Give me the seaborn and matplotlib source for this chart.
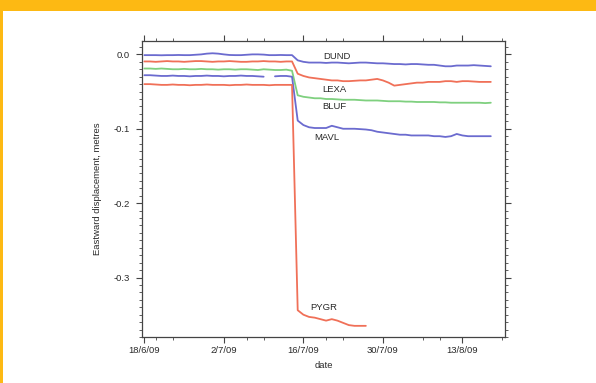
import pandas as pd
import numpy as np
import matplotlib
matplotlib.use('Agg')
import matplotlib.pyplot as plt
import matplotlib.dates as mdates
from matplotlib.ticker import MultipleLocator
from matplotlib.patches import Rectangle
import seaborn as sns

# daily positions, 18/6/09 .. 14/7/09 (before the quake)
pre_dates = pd.date_range('2009-06-18', '2009-07-14', freq='D')
# daily positions after the quake, 15/7/09 .. 18/8/09
post_dates = pd.date_range('2009-07-15', '2009-08-18', freq='D')
pygr_post_dates = pd.date_range('2009-07-15', '2009-07-27', freq='D')

dund_pre = [-0.001, -0.001, -0.001, -0.0012, -0.001, -0.001, -0.0008, -0.001, -0.001, -0.0005,
            0.0, 0.001, 0.0015, 0.001, 0.0, -0.0008, -0.001, -0.001, -0.0005, 0.0,
            0.0, -0.0003, -0.001, -0.001, -0.0008, -0.001, -0.001]
dund_post = [-0.008, -0.010, -0.011, -0.011, -0.011, -0.0115, -0.011, -0.011, -0.0115, -0.012,
             -0.0115, -0.011, -0.011, -0.0115, -0.012, -0.012, -0.0125, -0.013, -0.013, -0.0135,
             -0.013, -0.013, -0.0135, -0.014, -0.014, -0.015, -0.016, -0.016, -0.015, -0.015,
             -0.015, -0.0145, -0.015, -0.0155, -0.016]

lexa_pre = [-0.0095, -0.0095, -0.010, -0.0095, -0.009, -0.0095, -0.0095, -0.010, -0.0095, -0.009,
            -0.009, -0.0095, -0.010, -0.0095, -0.0095, -0.009, -0.0095, -0.010, -0.010, -0.0095,
            -0.0095, -0.009, -0.0095, -0.0095, -0.010, -0.0095, -0.0095]
lexa_post = [-0.026, -0.029, -0.031, -0.032, -0.033, -0.034, -0.035, -0.035, -0.036, -0.036,
             -0.0355, -0.035, -0.035, -0.034, -0.033, -0.035, -0.038, -0.042, -0.041, -0.040,
             -0.039, -0.038, -0.038, -0.037, -0.037, -0.037, -0.036, -0.036, -0.037, -0.036,
             -0.036, -0.0365, -0.037, -0.037, -0.037]

bluf_pre = [-0.019, -0.019, -0.0195, -0.019, -0.0195, -0.020, -0.020, -0.0195, -0.020, -0.020,
            -0.0195, -0.020, -0.020, -0.0205, -0.020, -0.020, -0.0205, -0.020, -0.020, -0.0205,
            -0.021, -0.020, -0.0205, -0.021, -0.021, -0.0205, -0.022]
bluf_post = [-0.055, -0.057, -0.058, -0.059, -0.059, -0.060, -0.060, -0.0605, -0.061, -0.061,
             -0.061, -0.0615, -0.062, -0.062, -0.062, -0.0625, -0.063, -0.063, -0.063, -0.0635,
             -0.0635, -0.064, -0.064, -0.064, -0.064, -0.0645, -0.0645, -0.065, -0.065, -0.065,
             -0.065, -0.065, -0.065, -0.0655, -0.065]

mavl_pre = [-0.028, -0.028, -0.0285, -0.029, -0.029, -0.0285, -0.029, -0.029, -0.0295, -0.029,
            -0.029, -0.0285, -0.029, -0.029, -0.0295, -0.029, -0.029, -0.0285, -0.029, -0.029,
            -0.0295, -0.030, np.nan, -0.0295, -0.029, -0.029, -0.030]
mavl_post = [-0.089, -0.095, -0.098, -0.099, -0.099, -0.099, -0.096, -0.098, -0.100, -0.100,
             -0.100, -0.1005, -0.101, -0.102, -0.104, -0.105, -0.106, -0.107, -0.108, -0.108,
             -0.109, -0.109, -0.109, -0.109, -0.110, -0.110, -0.111, -0.110, -0.107, -0.109,
             -0.110, -0.110, -0.110, -0.110, -0.110]

pygr_pre = [-0.040, -0.040, -0.0405, -0.041, -0.041, -0.0405, -0.041, -0.041, -0.0415, -0.041,
            -0.041, -0.0405, -0.041, -0.041, -0.041, -0.0415, -0.041, -0.041, -0.0405, -0.041,
            -0.041, -0.041, -0.0415, -0.041, -0.041, -0.041, -0.041]
pygr_post = [-0.344, -0.350, -0.353, -0.354, -0.356, -0.358, -0.356, -0.358, -0.361, -0.364,
             -0.365, -0.365, -0.365]

stations = ['DUND', 'LEXA', 'BLUF', 'MAVL', 'PYGR']
series = {
    'DUND': (dund_pre + dund_post, post_dates),
    'LEXA': (lexa_pre + lexa_post, post_dates),
    'BLUF': (bluf_pre + bluf_post, post_dates),
    'MAVL': (mavl_pre + mavl_post, post_dates),
    'PYGR': (pygr_pre + pygr_post, pygr_post_dates),
}
colours = {'DUND': '#6b6bcf', 'LEXA': '#f07058', 'BLUF': '#7fd07f',
           'MAVL': '#6b6bcf', 'PYGR': '#f07058'}

# station label anchor (left edge) dates and heights
label_dates = pd.to_datetime(['2009-07-19 14:00', '2009-07-19 08:00', '2009-07-19 08:00',
                              '2009-07-17 22:00', '2009-07-17 05:00'])
label_values = [-0.003, -0.047, -0.070, -0.112, -0.341]

xtick_dates = pd.to_datetime(['2009-06-18', '2009-07-02', '2009-07-16', '2009-07-30', '2009-08-13'])
xtick_labels = ['18/6/09', '2/7/09', '16/7/09', '30/7/09', '13/8/09']
ytick_values = [0.0, -0.1, -0.2, -0.3]
ytick_labels = ['0.0', '-0.1', '-0.2', '-0.3']

rows = []
for name in stations:
    vals, pdates = series[name]
    dates = list(pre_dates) + list(pdates)
    for d, v in zip(dates, vals):
        rows.append({'date': d, 'value': v, 'station': name})
df = pd.DataFrame(rows)

sns.set_style('ticks')
plt.rcParams['font.family'] = ['Liberation Sans', 'DejaVu Sans']

fig = plt.figure(figsize=(5.96, 3.83), dpi=100)
fig.patch.set_facecolor('white')
# yellow frame
fig.patches.append(Rectangle((0, 1 - 11 / 383), 1, 11 / 383, transform=fig.transFigure,
                             facecolor='#fdb913', edgecolor='none', zorder=0))
fig.patches.append(Rectangle((0, 0), 3 / 596, 1, transform=fig.transFigure,
                             facecolor='#fdb913', edgecolor='none', zorder=0))

ax = fig.add_axes([142 / 596, 1 - 337 / 383, (505 - 142) / 596, (337 - 41) / 383])
for name in stations:
    sub = df[df['station'] == name]
    ax.plot(sub['date'], sub['value'], color=colours[name], lw=1.3)

for name, d, v in zip(stations, label_dates, label_values):
    ax.text(d, v, name, fontsize=6.8, color='#2a2a2a', ha='left', va='center')

ax.set_xlim(pd.Timestamp('2009-06-17 14:00'), pd.Timestamp('2009-08-20 12:00'))
ax.set_ylim(-0.38, 0.018)

ax.set_xticks(xtick_dates)
ax.set_xticklabels(xtick_labels)
ax.xaxis.set_minor_locator(mdates.DayLocator(bymonthday=[9, 23, 6, 20]))
ax.set_yticks(ytick_values)
ax.set_yticklabels(ytick_labels)
ax.yaxis.set_minor_locator(MultipleLocator(0.01))

ax.tick_params(which='both', direction='out', top=True, right=True, labeltop=False,
               labelright=False, colors='#444444', labelcolor='#2a2a2a')
ax.tick_params(which='major', length=4, width=0.8, labelsize=6.8, pad=2.5)
ax.tick_params(which='minor', length=2, width=0.6)
ax.tick_params(axis='y', which='major', pad=5)
for s in ax.spines.values():
    s.set_visible(True)
    s.set_color('#444444')
    s.set_linewidth(0.9)

ax.set_xlabel('date', fontsize=6.8, color='#2a2a2a', labelpad=4)
ax.set_ylabel('Eastward displacement, metres', fontsize=6.8, color='#2a2a2a', labelpad=8)

fig.savefig('out.png', dpi=100, facecolor='white')
